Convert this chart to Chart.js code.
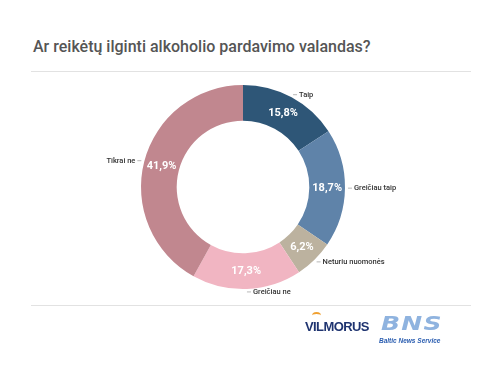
<!DOCTYPE html>
<html>
<head>
<meta charset="utf-8">
<script src="https://cdn.jsdelivr.net/npm/chart.js@4"></script>
<style>
  body { margin: 0; background: #fff; font-family: Roboto, sans-serif; }
  #wrap { position: relative; width: 500px; height: 375px; overflow: hidden; }
  #title { position: absolute; left: 33px; top: 37px; font-size: 16px; font-weight: 500; color: #555; white-space: nowrap; }
  .rule { position: absolute; left: 31px; width: 440px; height: 1px; background: #e2e2e2; }
  #box { position: absolute; left: 0; top: 0; width: 500px; height: 375px; }
  #vil { position: absolute; left: 305px; top: 319px; font-family: "Liberation Sans", Arial, sans-serif; font-weight: bold; font-size: 13px; color: #1f3470; letter-spacing: -0.6px; }
  #vil span { position: absolute; left: 7px; top: -7px; width: 9px; height: 5px; border-top: 2px solid #f0a030; border-radius: 50%; }
  #bns { position: absolute; left: 381px; top: 311px; font-family: "DejaVu Sans", sans-serif; font-weight: bold; font-style: italic; font-size: 20px; color: #8fb3df; letter-spacing: 1px; transform: scaleX(1.25); transform-origin: left; }
  #bns2 { position: absolute; left: 379px; top: 337px; font-family: "Liberation Sans", sans-serif; font-weight: bold; font-style: italic; font-size: 6.5px; color: #2a5db0; }
</style>
</head>
<body>
<div id="wrap">
  <div id="title">Ar reikėtų ilginti alkoholio pardavimo valandas?</div>
  <div class="rule" style="top:71px"></div>
  <div class="rule" style="top:305px"></div>
  <div id="box"><canvas id="chart1"></canvas></div>
  <div id="vil"><span></span>VILMORUS</div>
  <div id="bns">BNS</div>
  <div id="bns2">Baltic News Service</div>
</div>
<script>
  const labels = ['Taip', 'Greičiau taip', 'Neturiu nuomonės', 'Greičiau ne', 'Tikrai ne'];
  const values = [15.8, 18.7, 6.2, 17.3, 41.9];
  const colors = ['#2e5677', '#5f83a9', '#bcb29f', '#f1b5c2', '#c1878f'];

  const ctx = document.getElementById('chart1').getContext('2d');

  const sliceLabels = {
    id: 'sliceLabels',
    afterDatasetsDraw(chart) {
      const c = chart.ctx;
      const meta = chart.getDatasetMeta(0);
      c.save();
      meta.data.forEach((arc, i) => {
        const mid = (arc.startAngle + arc.endAngle) / 2;
        const cos = Math.cos(mid), sin = Math.sin(mid);
        const rIn = (arc.innerRadius + arc.outerRadius) / 2;
        // percentage inside slice
        c.fillStyle = '#fff';
        c.font = 'bold 11px Roboto, sans-serif';
        c.textAlign = 'center';
        c.textBaseline = 'middle';
        c.fillText(values[i].toFixed(1).replace('.', ',') + '%', arc.x + cos * rIn, arc.y + sin * rIn);
        // outer label with short leader
        const r0 = arc.outerRadius + 3;
        const px = arc.x + cos * r0, py = arc.y + sin * r0;
        const right = cos >= -0.05;
        const dir = right ? 1 : -1;
        c.strokeStyle = '#999';
        c.lineWidth = 0.7;
        c.beginPath();
        c.moveTo(px, py);
        c.lineTo(px + dir * 4, py);
        c.stroke();
        c.fillStyle = '#333';
        c.font = '500 7.5px Roboto, sans-serif';
        c.textAlign = right ? 'left' : 'right';
        c.fillText(labels[i], px + dir * 6, py);
      });
      c.restore();
    }
  };

  new Chart(ctx, {
    type: 'doughnut',
    data: {
      labels: labels,
      datasets: [{
        data: values,
        backgroundColor: colors,
        borderWidth: 0
      }]
    },
    options: {
      responsive: true,
      maintainAspectRatio: false,
      animation: false,
      cutout: '65%',
      layout: { padding: { top: 85, bottom: 86, left: 0, right: 14 } },
      plugins: {
        legend: { display: false },
        tooltip: { enabled: false }
      }
    },
    plugins: [sliceLabels]
  });
</script>
</body>
</html>
